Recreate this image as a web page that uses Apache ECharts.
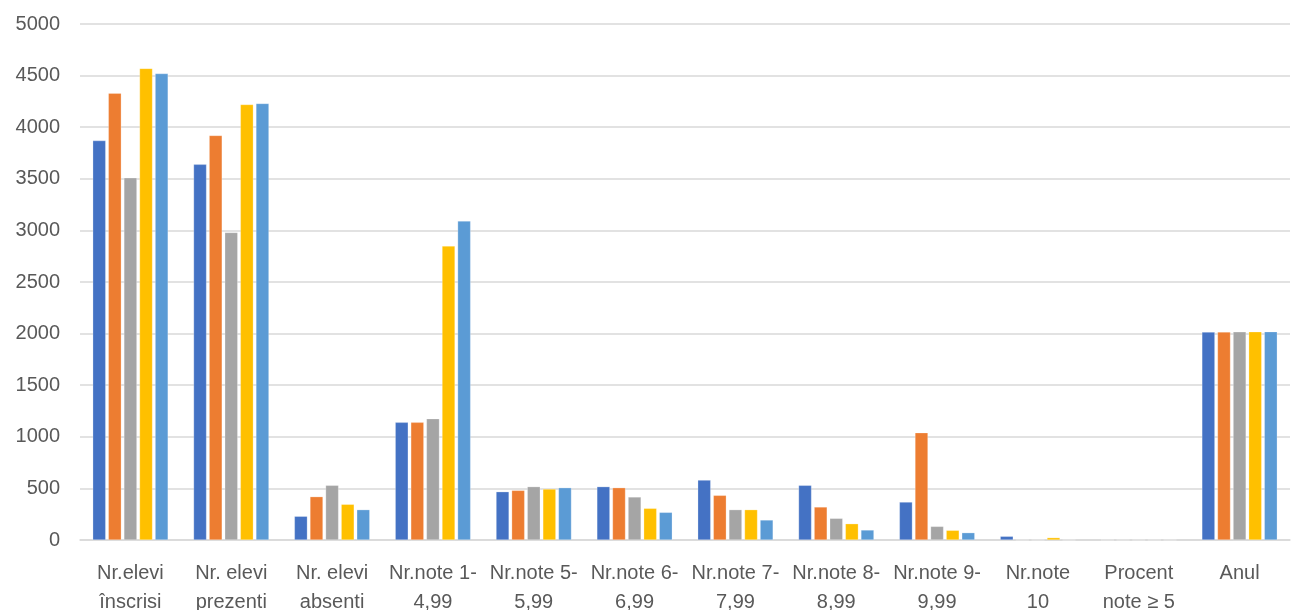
<!DOCTYPE html>
<html>
<head>
<meta charset="utf-8">
<script src="https://cdn.jsdelivr.net/npm/echarts@6/dist/echarts.min.js"></script>
<style>
html,body{margin:0;padding:0;background:#fff;overflow:hidden;}
#chart{width:1293px;height:610px;}
</style>
</head>
<body>
<div id="chart"></div>
<script>
const categories = [
  "Nr.elevi\nînscrisi", "Nr. elevi\nprezenti", "Nr. elevi\nabsenti",
  "Nr.note 1-\n4,99", "Nr.note 5-\n5,99", "Nr.note 6-\n6,99",
  "Nr.note 7-\n7,99", "Nr.note 8-\n8,99", "Nr.note 9-\n9,99",
  "Nr.note\n10", "Procent\nnote ≥ 5", "Anul"
];
const series1 = [3870, 3640, 230, 1140, 468, 517, 581, 530, 368, 36, 0, 2015];
const series2 = [4330, 3920, 420, 1140, 481, 507, 433, 320, 1040, 0, 0, 2016];
const series3 = [3510, 2980, 530, 1176, 517, 417, 294, 210, 132, 0, 0, 2017];
const series4 = [4570, 4220, 346, 2849, 494, 307, 294, 158, 94, 23, 0, 2018];
const series5 = [4520, 4230, 294, 3091, 507, 268, 194, 97, 71, 0, 0, 2019];
const seriesNames = ["Seria 1", "Seria 2", "Seria 3", "Seria 4", "Seria 5"];
const yTicks = {min: 0, max: 5000, interval: 500};

const colors = ["#4472C4", "#ED7D31", "#A5A5A5", "#FFC000", "#5B9BD5"];
const allData = [series1, series2, series3, series4, series5];

const chart = echarts.init(document.getElementById('chart'));
chart.setOption({
  animation: false,
  grid: {left: 80, right: 3, top: 24, bottom: 70, containLabel: false, outerBoundsMode: 'none'},
  xAxis: {
    type: 'category',
    data: categories,
    axisLine: {lineStyle: {color: '#d9d9d9', width: 1.5}},
    axisTick: {show: false},
    axisLabel: {
      interval: 0,
      color: '#595959',
      fontFamily: 'Liberation Sans, Arial, sans-serif',
      fontSize: 20,
      lineHeight: 29,
      margin: 19
    }
  },
  yAxis: {
    type: 'value',
    min: yTicks.min, max: yTicks.max, interval: yTicks.interval,
    axisLine: {show: false},
    axisTick: {show: false},
    splitLine: {lineStyle: {color: '#d9d9d9', width: 1.5}},
    axisLabel: {
      color: '#595959',
      fontFamily: 'Liberation Sans, Arial, sans-serif',
      fontSize: 20,
      margin: 20,
      formatter: v => String(v)
    }
  },
  series: allData.map((d, i) => ({
    name: seriesNames[i],
    type: 'bar',
    data: d,
    barWidth: 13,
    barGap: '20%',
    itemStyle: {color: colors[i], borderColor: 'rgba(255,255,255,0.5)', borderWidth: 0.5}
  }))
});
</script>
</body>
</html>
